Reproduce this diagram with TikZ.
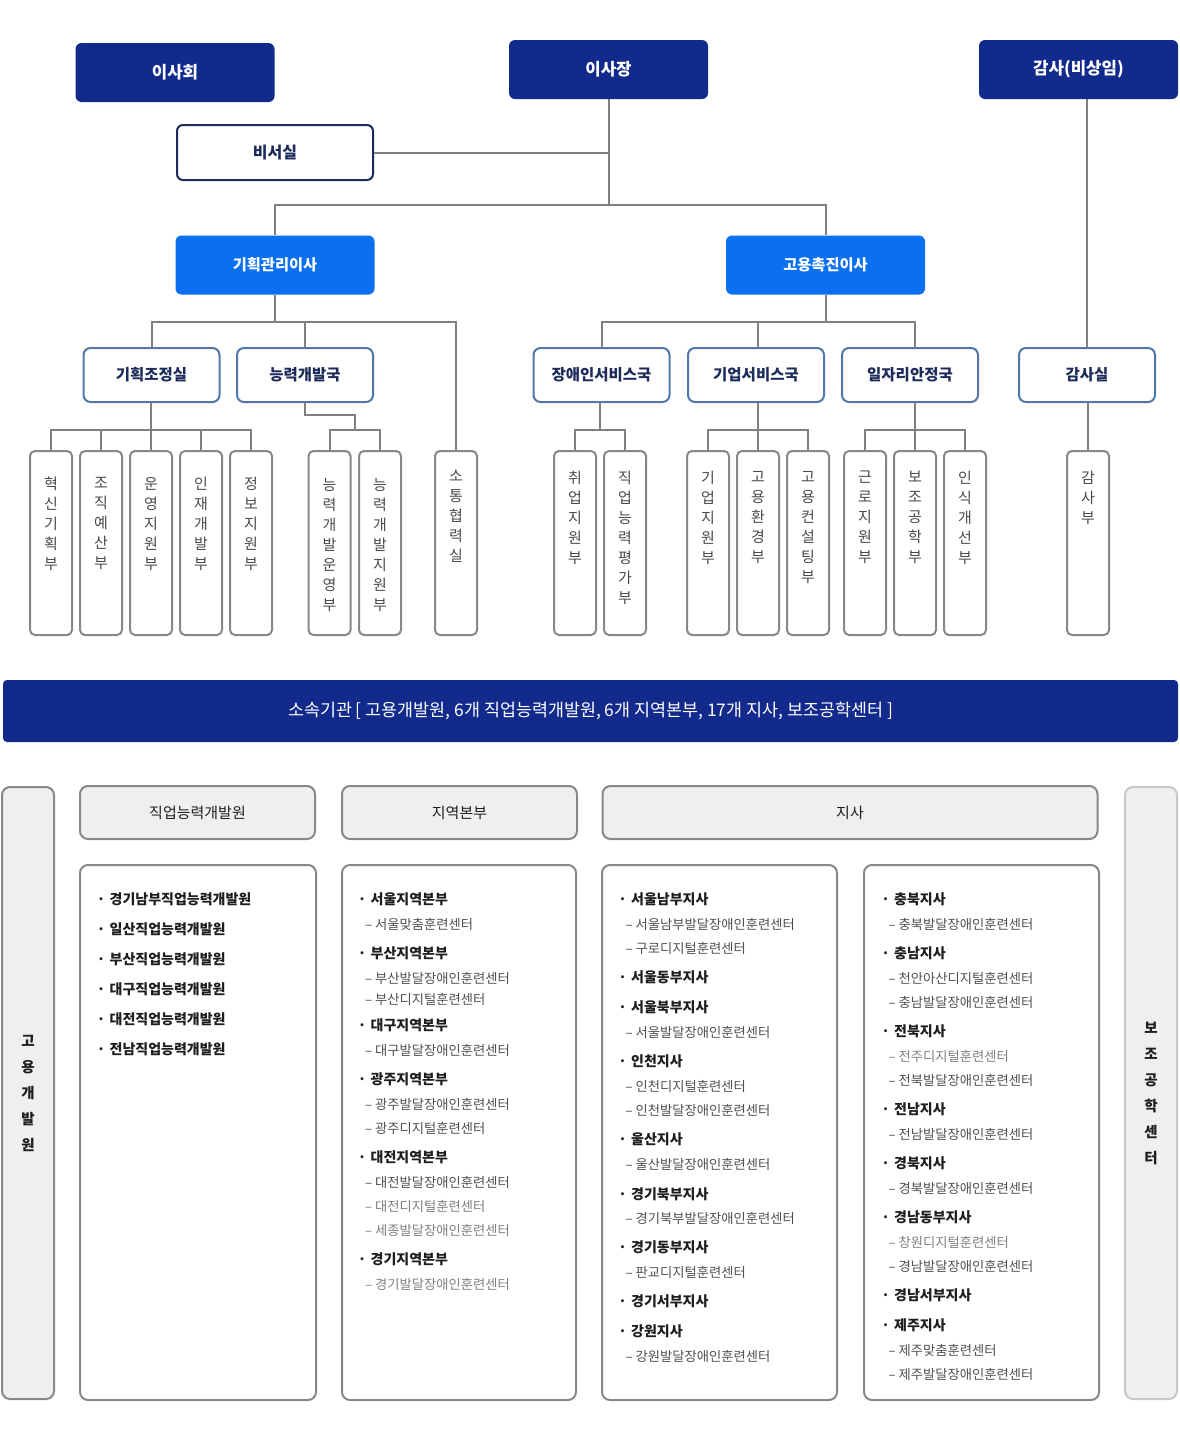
\documentclass[tikz,border=0pt]{standalone}
\usepackage{fontspec}
\setmainfont{Noto Sans CJK KR}
\usetikzlibrary{calc}
\definecolor{navy}{HTML}{112A8C}
\definecolor{bblue}{HTML}{0A70F0}
\definecolor{dnavy}{HTML}{1C2B5A}
\definecolor{steel}{HTML}{5077AC}
\definecolor{lgray}{HTML}{808080}
\definecolor{bgray}{HTML}{888888}
\definecolor{cgray}{HTML}{C8C8C8}
\definecolor{fillg}{HTML}{EFEFEF}
\definecolor{txtg}{HTML}{4A4A4A}
\definecolor{subg}{HTML}{505050}
\definecolor{subl}{HTML}{808080}
\definecolor{maint}{HTML}{1E1E1E}
\newcounter{ln}
\newcommand\mitem[3]{\stepcounter{ln}\node[mainit] (l\arabic{ln}) at (#1,#2) {\makebox[17pt][c]{·}#3};}
\newcommand\sitem[3]{\stepcounter{ln}\node[subit] (l\arabic{ln}) at (#1,#2) {\makebox[13pt][c]{–}#3};}
\newcommand\litem[3]{\stepcounter{ln}\node[subit,text=subl] (l\arabic{ln}) at (#1,#2) {\makebox[13pt][c]{–}#3};}
\newcommand\dept[4]{\node[deptbox] (#1) at (#2,543) {};
  \node[depttext] (#1t) at (#2,#4) {#3};}
\tikzset{
 conn/.style={draw=lgray, line width=2pt},
 topbox/.style={fill=navy, rounded corners=6pt, text=white, minimum width=199pt, minimum height=59pt, inner sep=0pt, font=\fontsize{16.8}{19}\selectfont\bfseries},
 secbox/.style={fill=white, draw=dnavy, line width=2pt, rounded corners=6pt, text=dnavy, minimum width=196pt, minimum height=55pt, inner sep=0pt, font=\fontsize{16}{19}\selectfont\bfseries},
 dirbox/.style={fill=bblue, rounded corners=6pt, text=white, minimum width=199pt, minimum height=59pt, inner sep=0pt, font=\fontsize{15.3}{18}\selectfont\bfseries},
 midbox/.style={fill=white, draw=steel, line width=2pt, rounded corners=7pt, text=dnavy, minimum width=136pt, minimum height=54pt, inner sep=0pt, font=\fontsize{15.5}{18}\selectfont\bfseries},
 deptbox/.style={fill=white, draw=bgray, line width=2pt, rounded corners=5pt, minimum width=42pt, minimum height=184pt, inner sep=0pt},
 depttext/.style={text=txtg, align=center, inner sep=0pt, font=\fontsize{15}{20}\selectfont, anchor=north},
 banner/.style={fill=navy, rounded corners=4pt, text=white, minimum width=1175pt, minimum height=62pt, inner sep=0pt, font=\fontsize{17.4}{20}\selectfont},
 colbox/.style={fill=fillg, line width=2pt, rounded corners=8pt, minimum width=52pt, minimum height=612pt, inner sep=0pt, align=center, text=maint, font=\fontsize{14.5}{26}\selectfont\bfseries},
 headbox/.style={fill=fillg, draw=bgray, line width=2pt, rounded corners=8pt, minimum height=53pt, inner sep=0pt, text=maint, font=\fontsize{15}{18}\selectfont},
 listbox/.style={fill=white, draw=bgray, line width=2pt, rounded corners=8pt, minimum height=535pt, inner sep=0pt},
 mainit/.style={anchor=west, inner sep=0pt, text=maint, font=\fontsize{14}{16}\selectfont\bfseries},
 subit/.style={anchor=west, inner sep=0pt, text=subg, font=\fontsize{13.3}{15}\selectfont},
}
\begin{document}
\begin{tikzpicture}[x=1pt,y=-1pt]
\fill[white] (0,0) rectangle (1179,1444);
\useasboundingbox (0,0) rectangle (1179,1444);

% top level
\node[topbox] (isahoe) at (175,72.5) {이사회};
\node[topbox] (ijj) at (608.5,69.5) {이사장};
\node[topbox] (gam) at (1078.5,69.5) {감사(비상임)};
\node[secbox] (bs) at (275,152.5) {비서실};
\node[dirbox] (gm) at (275,265) {기획관리이사};
\node[dirbox] (gc) at (825.5,265) {고용촉진이사};

% mid level
\node[midbox] (kj) at (151.5,375) {기획조정실};
\node[midbox] (ng) at (305,375) {능력개발국};
\node[midbox] (js) at (601.5,375) {장애인서비스국};
\node[midbox] (gs) at (756,375) {기업서비스국};
\node[midbox] (il) at (910,375) {일자리안정국};
\node[midbox] (gsil) at (1087,375) {감사실};

% departments
\dept{d1}{51}{혁\\신\\기\\획\\부}{477}
\dept{d2}{101}{조\\직\\예\\산\\부}{477}
\dept{d3}{151}{운\\영\\지\\원\\부}{477}
\dept{d4}{201}{인\\재\\개\\발\\부}{477}
\dept{d5}{251}{정\\보\\지\\원\\부}{477}
\dept{d6}{329.5}{능\\력\\개\\발\\운\\영\\부}{478}
\dept{d7}{380}{능\\력\\개\\발\\지\\원\\부}{478}
\dept{d8}{456}{소\\통\\협\\력\\실}{470}
\dept{d9}{575}{취\\업\\지\\원\\부}{471}
\dept{d10}{625}{직\\업\\능\\력\\평\\가\\부}{471}
\dept{d11}{708}{기\\업\\지\\원\\부}{471}
\dept{d12}{758}{고\\용\\환\\경\\부}{471}
\dept{d13}{808}{고\\용\\컨\\설\\팅\\부}{471}
\dept{d14}{865}{근\\로\\지\\원\\부}{471}
\dept{d15}{915}{보\\조\\공\\학\\부}{471}
\dept{d16}{965}{인\\식\\개\\선\\부}{471}
\dept{d17}{1088}{감\\사\\부}{471}

% connectors top
\coordinate (hub) at (608.5,205);
\draw[conn] (ijj.south) -- (hub);
\draw[conn] (bs.east) -- (bs.east -| hub);
\draw[conn] (gm.north) |- (hub) -| (gc.north);
\draw[conn] (gam.south -| gsil.north) -- (gsil.north);

% second level buses
\draw[conn] (gm.south) -- ++(0,27);
\draw[conn] (kj.north) -- ++(0,-25) -| (d8.north);
\draw[conn] (ng.north) -- ++(0,-25);
\draw[conn] (gc.south) -- ++(0,27);
\draw[conn] (js.north) -- ++(0,-25) -| (il.north -| d15.north);
\draw[conn] (gs.north -| d12.north) -- ++(0,-25);

% department buses
\draw[conn] (d1.north) -- ++(0,-20) -| (d5.north);
\draw[conn] (d2.north) -- ++(0,-20);
\draw[conn] (d4.north) -- ++(0,-20);
\draw[conn] (d3.north) -- (kj.south -| d3.north);
\coordinate (nb) at ($(d6.north)!0.5!(d7.north)+(0,-20)$);
\draw[conn] (d6.north) -- ++(0,-20) -| (d7.north);
\draw[conn] (ng.south) -- ++(0,12) -| (nb);
\coordinate (jb) at ($(d9.north)!0.5!(d10.north)+(0,-20)$);
\draw[conn] (d9.north) -- ++(0,-20) -| (d10.north);
\draw[conn] (js.south -| jb) -- (jb);
\draw[conn] (d11.north) -- ++(0,-20) -| (d13.north);
\draw[conn] (d12.north) -- (gs.south -| d12.north);
\draw[conn] (d14.north) -- ++(0,-20) -| (d16.north);
\draw[conn] (d15.north) -- (il.south -| d15.north);
\draw[conn] (d17.north) -- (gsil.south -| d17.north);

% banner
\node[banner] (ban) at (590.5,711) {소속기관 [ 고용개발원, 6개 직업능력개발원, 6개 지역본부, 17개 지사, 보조공학센터 ]};

% lower section
\node[colbox, draw=bgray] (gy) at (28,1093) {고\\용\\개\\발\\원};
\node[colbox, draw=cgray] (bj) at (1151,1093) {보\\조\\공\\학\\센\\터};
\node[headbox, minimum width=235pt] (h1) at (197.5,812.5) {직업능력개발원};
\node[headbox, minimum width=235pt] (h2) at (459.5,812.5) {지역본부};
\node[headbox, minimum width=495pt] (h3) at (850,812.5) {지사};
\node[listbox, minimum width=236pt] (b1) at (198,1132.5) {};
\node[listbox, minimum width=234pt] (b2) at (459,1132.5) {};
\node[listbox, minimum width=235pt] (b3) at (719.5,1132.5) {};
\node[listbox, minimum width=235pt] (b4) at (981.5,1132.5) {};

% box 1
\mitem{92.5}{899}{경기남부직업능력개발원}
\mitem{92.5}{929}{일산직업능력개발원}
\mitem{92.5}{959}{부산직업능력개발원}
\mitem{92.5}{989}{대구직업능력개발원}
\mitem{92.5}{1019}{대전직업능력개발원}
\mitem{92.5}{1049}{전남직업능력개발원}

% box 2
\mitem{353.5}{899}{서울지역본부}
\sitem{362}{924}{서울맞춤훈련센터}
\mitem{353.5}{953}{부산지역본부}
\sitem{362}{978}{부산발달장애인훈련센터}
\sitem{362}{999}{부산디지털훈련센터}
\mitem{353.5}{1025}{대구지역본부}
\sitem{362}{1050}{대구발달장애인훈련센터}
\mitem{353.5}{1079}{광주지역본부}
\sitem{362}{1104}{광주발달장애인훈련센터}
\sitem{362}{1128}{광주디지털훈련센터}
\mitem{353.5}{1157}{대전지역본부}
\sitem{362}{1182}{대전발달장애인훈련센터}
\litem{362}{1206}{대전디지털훈련센터}
\litem{362}{1230}{세종발달장애인훈련센터}
\mitem{353.5}{1259}{경기지역본부}
\litem{362}{1284}{경기발달장애인훈련센터}

% box 3
\mitem{614}{899}{서울남부지사}
\sitem{622.5}{924}{서울남부발달장애인훈련센터}
\sitem{622.5}{948}{구로디지털훈련센터}
\mitem{614}{977}{서울동부지사}
\mitem{614}{1007}{서울북부지사}
\sitem{622.5}{1032}{서울발달장애인훈련센터}
\mitem{614}{1061}{인천지사}
\sitem{622.5}{1086}{인천디지털훈련센터}
\sitem{622.5}{1110}{인천발달장애인훈련센터}
\mitem{614}{1139}{울산지사}
\sitem{622.5}{1164}{울산발달장애인훈련센터}
\mitem{614}{1194}{경기북부지사}
\sitem{622.5}{1218}{경기북부발달장애인훈련센터}
\mitem{614}{1247}{경기동부지사}
\sitem{622.5}{1272}{판교디지털훈련센터}
\mitem{614}{1301}{경기서부지사}
\mitem{614}{1331}{강원지사}
\sitem{622.5}{1356}{강원발달장애인훈련센터}

% box 4
\mitem{877}{899}{충북지사}
\sitem{885.5}{924}{충북발달장애인훈련센터}
\mitem{877}{953}{충남지사}
\sitem{885.5}{978}{천안아산디지털훈련센터}
\sitem{885.5}{1002}{충남발달장애인훈련센터}
\mitem{877}{1031}{전북지사}
\litem{885.5}{1056}{전주디지털훈련센터}
\sitem{885.5}{1080}{전북발달장애인훈련센터}
\mitem{877}{1109}{전남지사}
\sitem{885.5}{1134}{전남발달장애인훈련센터}
\mitem{877}{1163}{경북지사}
\sitem{885.5}{1188}{경북발달장애인훈련센터}
\mitem{877}{1217}{경남동부지사}
\litem{885.5}{1242}{창원디지털훈련센터}
\sitem{885.5}{1266}{경남발달장애인훈련센터}
\mitem{877}{1295}{경남서부지사}
\mitem{877}{1325}{제주지사}
\sitem{885.5}{1350}{제주맞춤훈련센터}
\sitem{885.5}{1374}{제주발달장애인훈련센터}
\end{tikzpicture}
\end{document}
